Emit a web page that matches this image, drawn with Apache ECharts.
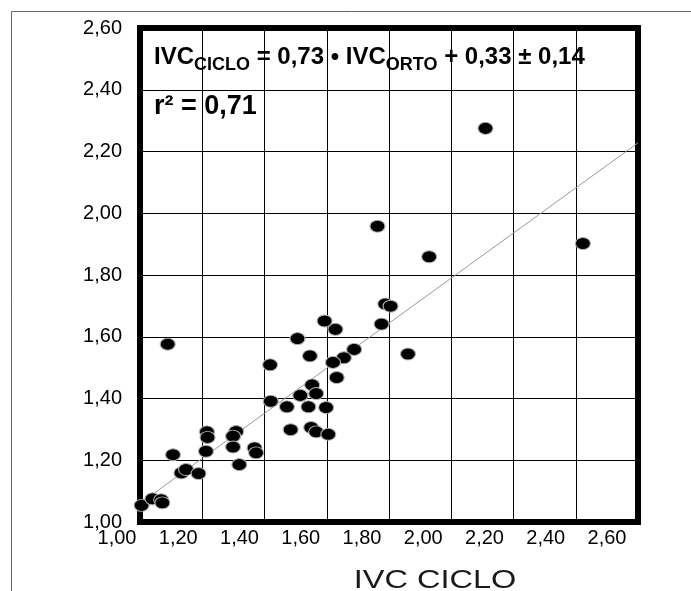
<!DOCTYPE html>
<html>
<head>
<meta charset="utf-8">
<script src="https://cdn.jsdelivr.net/npm/echarts@6/dist/echarts.min.js"></script>
<style>
  html, body {margin: 0; padding: 0; background: #fff;}
  #chart {width: 691px; height: 591px;}
</style>
</head>
<body>
<div id="chart"></div>
<script>
// points (x = horizontal axis, y = vertical axis)
const xValues = [
  2.11, 1.763, 1.929, 2.423, 1.089, 1.788, 1.805, 1.593, 1.628, 1.776,
  1.506, 1.546, 1.688, 1.655, 1.620, 1.418, 1.861, 1.632, 1.553, 1.515,
  1.566, 1.420, 1.472, 1.541, 1.598, 1.484, 1.550, 1.566, 1.605, 1.215,
  1.217, 1.309, 1.299, 1.106, 1.212, 1.299, 1.368, 1.373, 1.133, 1.148,
  1.188, 1.319, 1.005, 1.040, 1.068, 1.072,
];
const yValues = [
  2.275, 1.958, 1.859, 1.902, 1.576, 1.706, 1.699, 1.651, 1.624, 1.641,
  1.594, 1.538, 1.559, 1.532, 1.517, 1.509, 1.544, 1.468, 1.444, 1.410,
  1.416, 1.391, 1.373, 1.373, 1.371, 1.299, 1.306, 1.292, 1.284, 1.292,
  1.274, 1.293, 1.278, 1.218, 1.229, 1.243, 1.240, 1.224, 1.159, 1.170,
  1.157, 1.186, 1.054, 1.075, 1.072, 1.062,
];
const tickValues = [1.0, 1.2, 1.4, 1.6, 1.8, 2.0, 2.2, 2.4, 2.6];

// regression line as printed on the figure
const fitSlope = 0.73;
const fitIntercept = 0.33;
const fitRange = [1.0, 2.6];

const fontFamily = "\"Liberation Sans\", Arial, sans-serif";
const fmt = (v) => v.toFixed(2).replace(".", ",");

const points = xValues.map((x, i) => [x, yValues[i]]);
const fitLine = fitRange.map((x) => [x, fitSlope * x + fitIntercept]);

const chart = echarts.init(document.getElementById("chart"));

const option = {
  animation: false,
  backgroundColor: "#fff",
  title: [
    {
      text: "{m|IVC}{s|CICLO}{m| = 0,73 • IVC}{s|ORTO}{m| + 0,33 ± 0,14}",
      left: 154,
      top: 40,
      padding: 0,
      textStyle: {
        rich: {
          m: {fontSize: 24, fontWeight: "bold", fontFamily: fontFamily, color: "#000", lineHeight: 34},
          s: {fontSize: 18, fontWeight: "bold", fontFamily: fontFamily, color: "#000", lineHeight: 18, verticalAlign: "bottom"},
        },
      },
    },
    {
      text: "r² = 0,71",
      left: 154,
      top: 92,
      padding: 0,
      textStyle: {fontSize: 27, fontWeight: "bold", fontFamily: fontFamily, color: "#000", lineHeight: 29},
    },
  ],
  grid: [
    {left: 140, right: 53, top: 28, bottom: 69, show: true, borderColor: "#000", borderWidth: 6, outerBoundsMode: "none"},
    // second grid only carries the x tick labels, which sit a bit off the grid lines in the original
    {left: 117, width: 490, top: 28, bottom: 69, show: false, outerBoundsMode: "none"},
  ],
  xAxis: [
    {
      type: "value", gridIndex: 0, min: 1.0, max: 2.6, interval: 0.2,
      axisLine: {show: false}, axisTick: {show: false}, axisLabel: {show: false},
      splitLine: {show: true, lineStyle: {color: "#000", width: 1}},
    },
    {
      type: "value", gridIndex: 1, min: tickValues[0], max: tickValues[tickValues.length - 1], interval: 0.2,
      axisLine: {show: false}, axisTick: {show: false}, splitLine: {show: false},
      axisLabel: {
        show: true, margin: 6, fontSize: 20, fontFamily: fontFamily, color: "#000",
        showMinLabel: true, showMaxLabel: true, hideOverlap: false, formatter: fmt,
      },
    },
  ],
  yAxis: [
    {
      type: "value", gridIndex: 0, min: 1.0, max: 2.6, interval: 0.2,
      axisLine: {show: false}, axisTick: {show: false},
      splitLine: {show: true, lineStyle: {color: "#000", width: 1}},
      axisLabel: {
        margin: 18, fontSize: 20, fontFamily: fontFamily, color: "#000",
        showMinLabel: true, showMaxLabel: true, formatter: fmt,
      },
    },
    {type: "value", gridIndex: 1, min: 1.0, max: 2.6, show: false},
  ],
  series: [
    {
      type: "line",
      data: fitLine,
      xAxisIndex: 0,
      yAxisIndex: 0,
      symbol: "none",
      lineStyle: {color: "#9a9a9a", width: 1},
      z: 2,
    },
    {
      type: "scatter",
      data: points,
      xAxisIndex: 0,
      yAxisIndex: 0,
      clip: false,
      symbol: "path://M0,50 A50,50 0 1,1 100,50 A50,50 0 1,1 0,50 Z",
      symbolSize: [15, 12],
      itemStyle: {color: "#000", borderColor: "#b0b0b0", borderWidth: 1, opacity: 1},
      z: 3,
    },
  ],
  graphic: [
    {
      type: "polyline",
      silent: true,
      shape: {points: [[11.5, 591], [11.5, 11.5], [691, 11.5]]},
      style: {stroke: "#666", lineWidth: 1, fill: null},
      z: 0,
    },
    {
      type: "text",
      x: 435,
      y: 581,
      scaleX: 1.25,
      style: {
        text: "IVC CICLO",
        textAlign: "center",
        textVerticalAlign: "middle",
        font: "26px " + fontFamily,
        fill: "#1a1a1a",
      },
    },
  ],
};

chart.setOption(option);
</script>
</body>
</html>
